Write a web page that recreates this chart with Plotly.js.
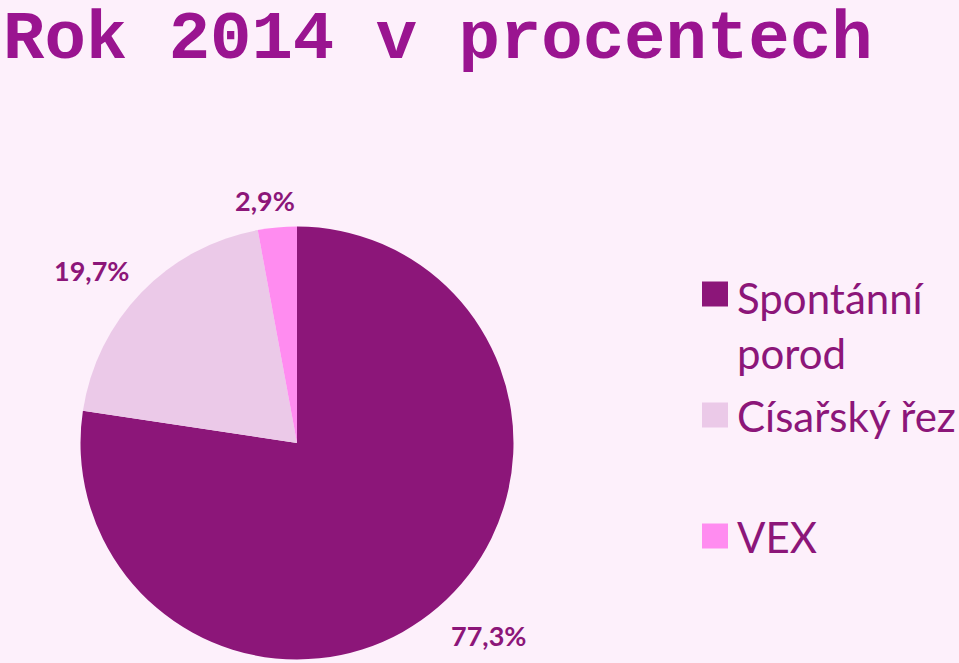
<!DOCTYPE html>
<html>
<head>
<meta charset="utf-8">
<script src="https://cdn.plot.ly/plotly-3.0.1.min.js"></script>
<style>html,body{margin:0;padding:0;background:#FDF0FB;}#chart{width:959px;height:663px;}</style>
</head>
<body>
<div id="chart"></div>
<script>
// Data
const categories = ['Spontánní porod', 'Císařský řez', 'VEX'];
const legendLabels = ['Spontánní<br>porod', 'Císařský řez', 'VEX'];
const values = [77.3, 19.7, 2.9];
const colors = ['#8C1679', '#EBC9E8', '#FF8CF0'];
const titleText = 'Rok 2014 v procentech';

// Layout helpers (pixel positions)
const W = 959, H = 663;
const cx = 297, cy = 443, r = 216.5;
const labelPos = [[488, 635], [91, 270], [265, 200]];
const legendRows = [294, 415, 536];
const textColor = '#8C1679';

const fmt = v => v.toFixed(1).replace('.', ',') + '%';

const trace = {
  type: 'pie',
  labels: categories,
  values: values,
  sort: false,
  direction: 'clockwise',
  rotation: 0,
  marker: {colors: colors, line: {width: 0}},
  textinfo: 'none',
  hoverinfo: 'label+value',
  showlegend: false,
  domain: {x: [(cx - r) / W, (cx + r) / W], y: [(H - cy - r) / H, (H - cy + r) / H]}
};

const annotations = [];
const shapes = [];
values.forEach((v, i) => {
  annotations.push({
    xref: 'paper', yref: 'paper',
    x: labelPos[i][0] / W, y: 1 - labelPos[i][1] / H,
    xanchor: 'center', yanchor: 'middle',
    text: '<b>' + fmt(v) + '</b>', showarrow: false,
    font: {family: 'Lato, sans-serif', size: 27, color: textColor}
  });
  const ry = legendRows[i];
  shapes.push({
    type: 'rect', xref: 'paper', yref: 'paper',
    x0: 702 / W, x1: 728 / W, y0: 1 - (ry - 12.5) / H, y1: 1 - (ry + 12.5) / H,
    fillcolor: colors[i], line: {width: 0}
  });
  annotations.push({
    xref: 'paper', yref: 'paper',
    x: 735 / W, y: 1 - (ry - 26 + (i === 0 ? 3 : 0)) / H,
    xanchor: 'left', yanchor: 'top', align: 'left',
    text: legendLabels[i], showarrow: false,
    font: {family: 'Lato, sans-serif', size: 42, color: textColor}
  });
});

const layout = {
  width: W, height: H,
  margin: {l: 0, r: 0, t: 0, b: 0},
  paper_bgcolor: '#FDF0FB',
  plot_bgcolor: '#FDF0FB',
  title: {
    text: '<b>' + titleText + '</b>',
    x: 3 / W, xanchor: 'left', xref: 'paper',
    y: 1 - 34 / H, yanchor: 'middle', yref: 'paper',
    font: {family: '"Liberation Mono", "DejaVu Sans Mono", monospace', size: 69, color: '#9A1490'}
  },
  annotations: annotations,
  shapes: shapes,
  showlegend: false
};

Plotly.newPlot('chart', [trace], layout, {displayModeBar: false, staticPlot: true});
</script>
</body>
</html>
